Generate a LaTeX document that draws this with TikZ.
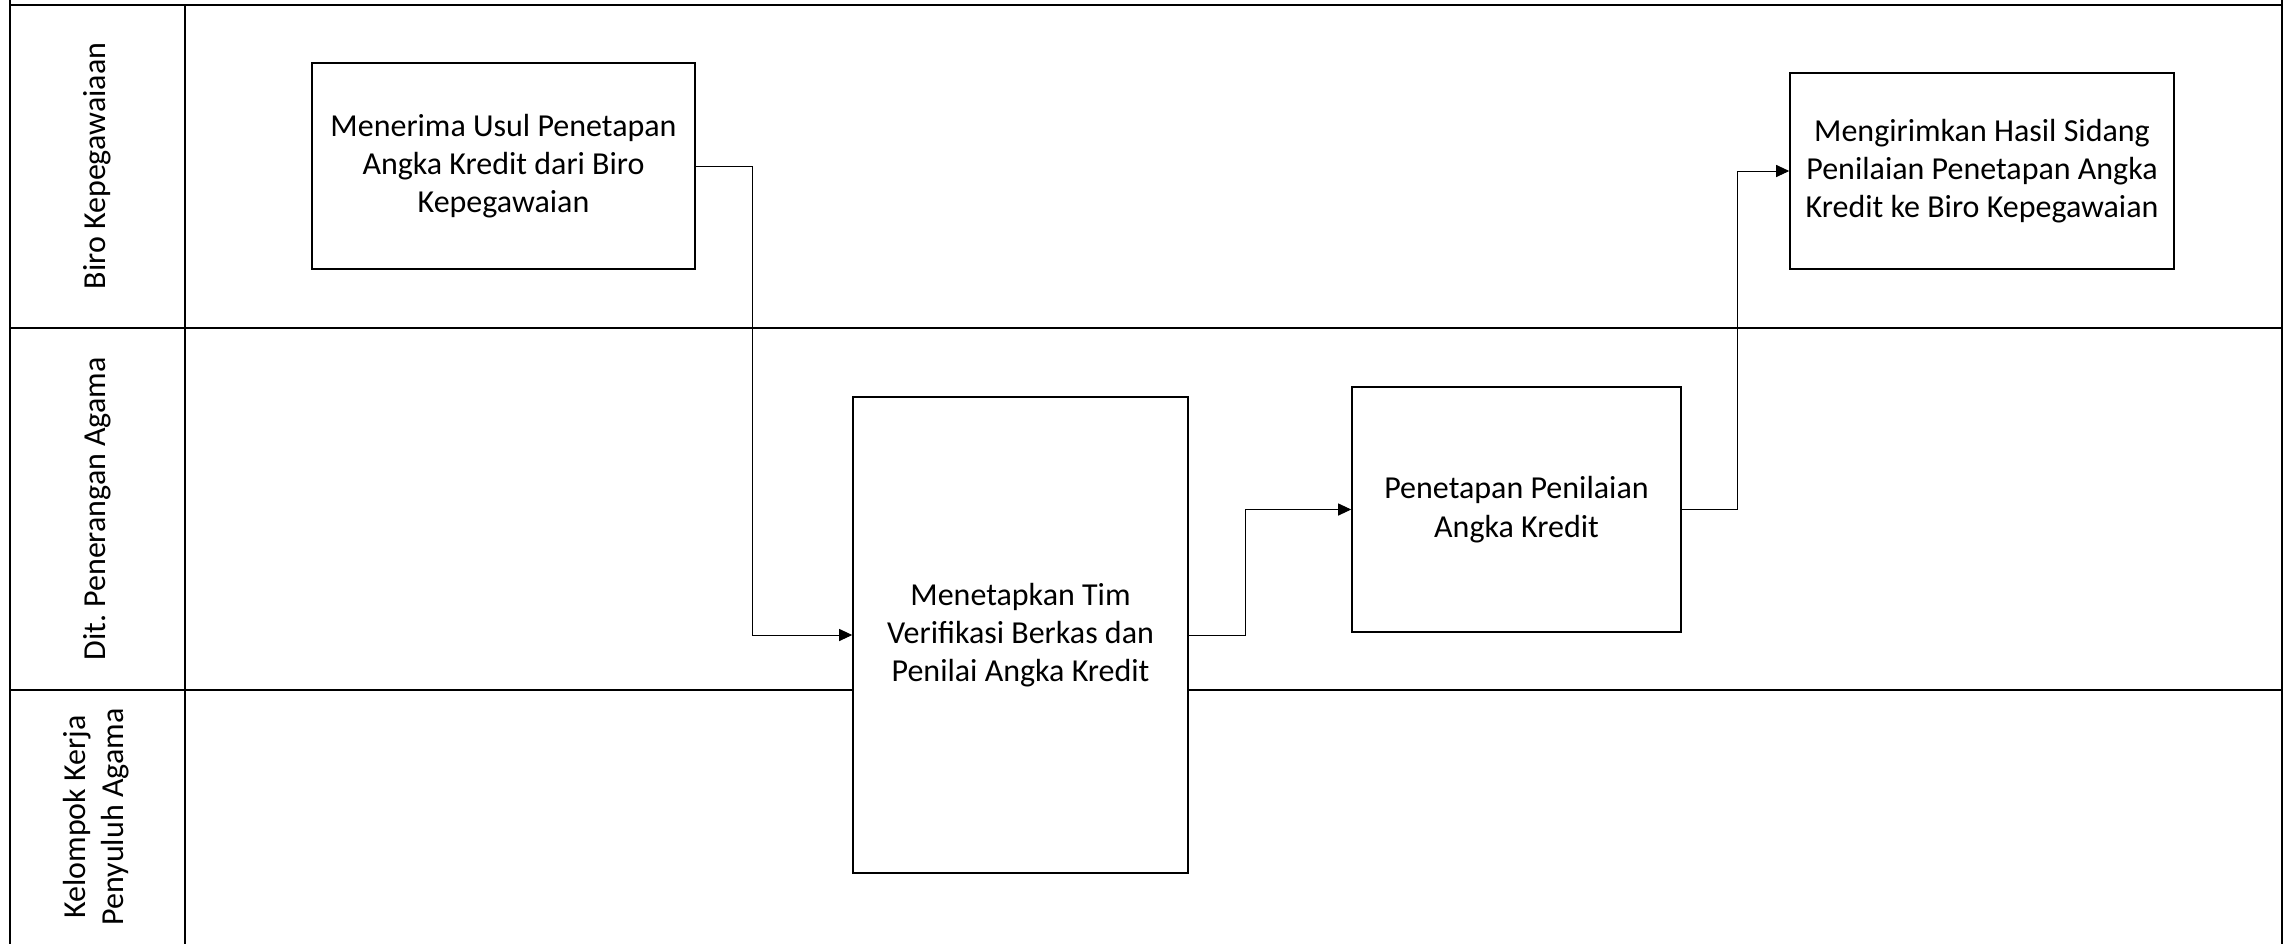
\documentclass[tikz,border=0pt]{standalone}
\usepackage{fontspec}
\setmainfont{Carlito}
\usetikzlibrary{arrows.meta}
\frenchspacing
\begin{document}
\begin{tikzpicture}[x=0.5pt,y=-0.5pt,
  lane/.style={line width=1pt,black},
  proc/.style={draw=black,fill=white,line width=0.8pt,rectangle,inner sep=0pt,align=center,
     font=\fontsize{16pt}{19.15pt}\selectfont},
  conn/.style={line width=0.5pt,black,-{Triangle[length=6.5pt,width=6pt]}},
  lanelabel/.style={rotate=90,align=center,inner sep=0pt,
     font=\fontsize{16pt}{19.15pt}\selectfont}]
\useasboundingbox (0,0) rectangle (2288,944);
% lanes frame
\draw[lane] (10,0) -- (10,944);
\draw[lane] (2282,0) -- (2282,944);
\draw[lane] (10,5) -- (2282,5);
\draw[lane] (185,5) -- (185,944);
\draw[lane] (10,328) -- (2282,328);
\draw[lane] (10,690) -- (2282,690);
% lane labels
\node[lanelabel] (l1) at (97.5,166) {Biro Kepegawaiaan};
\node[lanelabel] (l2) at (97.5,509) {Dit. Penerangan Agama};
\node[lanelabel] (l3) at (96,817) {Kelompok Kerja\\Penyuluh Agama};
% process boxes
\node[proc,minimum width=191.5pt,minimum height=103pt] (b1) at (503.5,166)
  {Menerima Usul Penetapan\\Angka Kredit dari Biro\\Kepegawaian};
\node[proc,minimum width=167.5pt,minimum height=238pt] (b2) at (1020.5,635)
  {Menetapkan Tim\\Verifikasi Berkas dan\\Penilai Angka Kredit};
\node[proc,minimum width=164.5pt,minimum height=122.5pt] (b3) at (1516.5,509.5)
  {Penetapan Penilaian\\Angka Kredit};
\node[proc,minimum width=192pt,minimum height=98pt] (b4) at (1982,171)
  {Mengirimkan Hasil Sidang\\Penilaian Penetapan Angka\\Kredit ke Biro Kepegawaian};
% connectors
\draw[conn] (b1.east) -- ++(57,0) |- (b2.west);
\draw[conn] (b2.east) -- ++(57,0) |- (b3.west);
\draw[conn] (b3.east) -- ++(56,0) |- (b4.west);
\end{tikzpicture}
\end{document}
